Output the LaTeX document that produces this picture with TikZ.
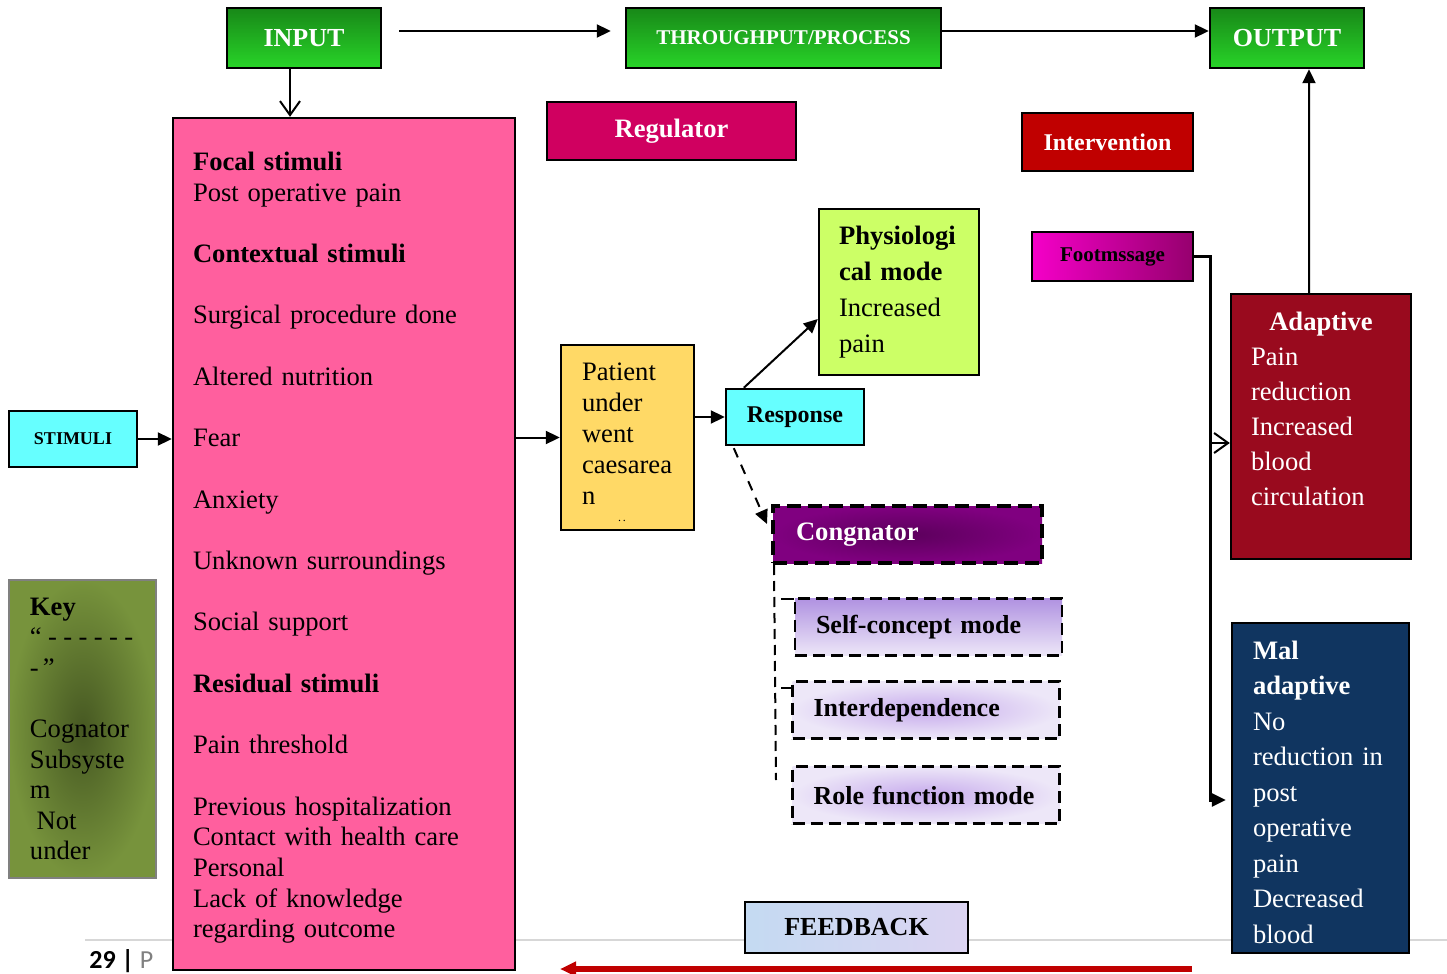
\documentclass[tikz,border=0pt]{standalone}
\usepackage{fontspec}
\setmainfont{Liberation Serif}
\newfontfamily\pagefont{Carlito}
\usetikzlibrary{positioning,calc,arrows.meta}
\hyphenpenalty=10000
\exhyphenpenalty=10000

\definecolor{hdrtop}{RGB}{24,136,24}
\definecolor{hdrbot}{RGB}{40,212,40}
\definecolor{stimpink}{RGB}{255,95,158}
\definecolor{regred}{RGB}{208,0,96}
\definecolor{intred}{RGB}{192,0,0}
\definecolor{physgreen}{RGB}{204,255,102}
\definecolor{footlight}{RGB}{245,0,200}
\definecolor{footdark}{RGB}{150,0,110}
\definecolor{adaptred}{RGB}{153,10,30}
\definecolor{malblue}{RGB}{16,53,96}
\definecolor{cyanbox}{RGB}{102,255,255}
\definecolor{patgold}{RGB}{255,217,102}
\definecolor{congpurple}{RGB}{128,0,128}
\definecolor{congdark}{RGB}{92,0,92}
\definecolor{modetop}{RGB}{176,146,225}
\definecolor{modelight}{RGB}{237,231,248}
\definecolor{modemid}{RGB}{198,170,236}
\definecolor{keyolive}{RGB}{119,147,60}
\definecolor{keydark}{RGB}{70,88,34}
\definecolor{fbblue}{RGB}{196,218,242}
\definecolor{fblilac}{RGB}{220,212,242}
\definecolor{pagegray}{RGB}{128,128,128}
\definecolor{ruleline}{RGB}{215,215,215}

\tikzset{
  box/.style={draw=black, line width=1.2pt, inner sep=0pt, align=center},
  iobox/.style={box, top color=hdrtop, bottom color=hdrbot, text=white,
    minimum width=77pt, minimum height=30pt, font=\fontsize{13}{15}\selectfont\bfseries},
  listbox/.style={box, inner xsep=10pt, align=left},
  modebox/.style={box, dashed, dash pattern=on 6pt off 3pt, inner xsep=10.5pt, align=left,
    text width=112.5pt, minimum height=28.5pt, font=\fontsize{13}{15}\selectfont\bfseries},
  arr/.style={-{Triangle[length=7pt,width=6.5pt]}, line width=1pt},
  barb/.style={-{Straight Barb[length=7pt,width=10pt]}, line width=1pt},
}

\begin{document}
\begin{tikzpicture}[x=0.5pt,y=-0.5pt]
  \fill [white] (0,0) rectangle (1447,974);
  \useasboundingbox (0,0) rectangle (1447,974);

  % page footer
  \draw [ruleline, line width=1pt] (85,940) -- (1447,940);
  \node [anchor=base west, inner sep=0pt, font=\pagefont\fontsize{13}{15}\selectfont] (pagenum) at (89,968)
    {\textbf{29 |} \textcolor{pagegray}{P}};

  % top row
  \node [iobox] (input) at (304,38) {INPUT};
  \node [iobox, minimum width=157.5pt, font=\fontsize{10.5}{12}\selectfont\bfseries] [right=121.3pt of input] (thru) {THROUGHPUT/PROCESS};
  \node [iobox] [right=133.3pt of thru] (out) {OUTPUT};

  \node [box, fill=regred, text=white, minimum width=124.5pt, minimum height=29pt,
    font=\fontsize{13.3}{15}\selectfont\bfseries] (reg) at (671.5,131) {Regulator};
  \node [box, fill=intred, text=white, minimum width=85.5pt, minimum height=29pt,
    font=\fontsize{12}{14}\selectfont\bfseries] (interv) at (1107.5,142) {Intervention};

  % stimuli
  \node [box, fill=cyanbox, minimum width=64pt, minimum height=28pt,
    font=\fontsize{9}{11}\selectfont\bfseries] (stim) at (73,439) {STIMULI};
  \node [listbox, fill=stimpink, text width=151pt, minimum height=426pt,
    font=\fontsize{13.3}{15.35}\selectfont] (stimlist) at (344,544)
    {\rule{0pt}{13pt}\textbf{Focal stimuli}\\Post operative pain\\[15.35pt]
     \textbf{Contextual stimuli}\\[15.35pt]
     Surgical procedure done\\[15.35pt]
     Altered nutrition\\[15.35pt]
     Fear\\[15.35pt]
     Anxiety\\[15.35pt]
     Unknown surroundings\\[15.35pt]
     Social support\\[15.35pt]
     \textbf{Residual stimuli}\\[15.35pt]
     Pain threshold\\[15.35pt]
     Previous hospitalization\\Contact with health care\\Personal\\Lack of knowledge\\regarding outcome};

  \node [listbox, draw=pagegray, line width=1pt, shading=radial, inner color=keydark, outer color=keyolive,
    inner xsep=10.5pt, text width=52.5pt, minimum height=149pt,
    font=\fontsize{13.3}{15.3}\selectfont] (key) at (82.5,729)
    {\textbf{Key}\\“\hspace*{3.2pt}-\hspace*{3.2pt}-\hspace*{3.2pt}-\hspace*{3.2pt}-\hspace*{3.2pt}-\hspace*{3.2pt}-\\-\hspace*{2pt}”\\[15.3pt]Cognator\\Subsyste\\m\\\hspace*{3.3pt}Not\\under};

  \node [listbox, fill=patgold, inner xsep=10.5pt, text width=45.5pt, minimum height=92.5pt,
    font=\fontsize{13.3}{15.5}\selectfont] (pat) at (627.5,437.5)
    {\rule{0pt}{13.8pt}Patient\\under\\went\\caesarea\\n\\[-7pt]\hspace*{18pt}{\fontsize{6}{6}\selectfont.\,.}};

  \node [box, fill=cyanbox, minimum width=69pt, minimum height=28pt,
    font=\fontsize{12}{14}\selectfont\bfseries] (resp) at (795,417) {Response};

  \node [listbox, fill=physgreen, text width=60pt, minimum height=83pt,
    font=\fontsize{13.3}{18}\selectfont] (phys) at (899,292)
    {\textbf{Physiologi}\\\textbf{cal mode}\\Increased\\pain};

  % cognator subsystem
  \node [box, dash pattern=on 7pt off 3.5pt, line width=2pt, shading=radial, inner color=congdark,
    outer color=congpurple, text=white, align=left, inner xsep=11.5pt, text width=111.5pt,
    minimum height=28.5pt, font=\fontsize{13.3}{15}\selectfont\bfseries] (cong) at (907.5,534.5) {Congnator};
  \node [modebox, top color=modetop, bottom color=modelight] (self) at (928.5,627) {Self-concept mode};
  \node [modebox, shading=radial, inner color=modemid, outer color=modelight] [below=11.8pt of self, xshift=-1.25pt] (inter) {Interdependence};
  \node [modebox, shading=radial, inner color=modemid, outer color=modelight] [below=12.8pt of inter] (role) {Role function mode};

  % outcomes
  \node [box, left color=footlight, right color=footdark, minimum width=80.5pt, minimum height=24.5pt,
    font=\fontsize{10.5}{12}\selectfont\bfseries] (foot) at (1112.5,256.5) {Footmssage};
  \node [listbox, fill=adaptred, text=white, text width=70pt, minimum height=132.5pt,
    font=\fontsize{13.3}{17.5}\selectfont] (adapt) at (1321,426.5)
    {\makebox[\linewidth]{\textbf{Adaptive}}\\Pain\\reduction\\Increased\\blood\\circulation\\\mbox{}};
  \node [listbox, fill=malblue, text=white, inner xsep=10.5pt, text width=67.5pt, minimum height=165pt,
    font=\fontsize{13.3}{17.75}\selectfont] (mal) at (1320.5,788)
    {\rule{0pt}{13.2pt}\textbf{Mal}\\\textbf{adaptive}\\No\\reduction in\\post\\operative\\pain\\Decreased\\blood};

  \node [box, left color=fbblue, right color=fblilac, minimum width=111.5pt, minimum height=25.5pt,
    font=\fontsize{13}{15}\selectfont\bfseries] (fb) at (856.5,927.5) {FEEDBACK};

  % connectors
  \coordinate (bend) at (1210,800);
  \coordinate (split) at (1210,443);
  \coordinate (cogfoot) at (776,780);
  \coordinate (fbtail) at (1192,969);
  \coordinate (fbhead) at (560,969);

  \draw [arr] ($(input.east)+(17,-7)$) -- ($(thru.west)+(-14,-7)$);
  \draw [arr] ($(thru.east)+(0,-7)$) -- ($(out.west)+(0,-7)$);
  \draw [barb] ($(input.south)+(-14,0)$) -- ($(stimlist.north)+(-54,0)$);
  \draw [arr] (stim.east) -- (stim.east -| stimlist.west);
  \draw [arr] (stimlist.east |- pat.west) -- (pat.west);
  \draw [arr] (pat.east |- resp.west) -- (resp.west);
  \draw [arr] ($(resp.north west)+(19,0)$) -- ($(phys.west)+(0,27)$);
  \draw [arr, dash pattern=on 5pt off 4pt] ($(resp.south west)+(9,2)$) -- ($(cong.north west)+(-4,20)$);
  \draw [line width=1pt, dash pattern=on 5pt off 3pt] ($(cong.south west)+(3,0)$) -- (cogfoot);
  \draw [line width=1pt] ($(self.north west)+(-13,2)$) -- ($(self.north west)+(0,2)$);
  \draw [line width=1pt] ($(inter.north west)+(-10,8)$) -- ($(inter.north west)+(0,8)$);
  \draw [arr, line width=1.5pt] (foot.east) -| (bend) -- ($(mal.west)+(-5,12)$);
  \draw [barb] (split) -- (split -| adapt.west);
  \draw [arr] ($(adapt.north)+(-12,0)$) -- ($(out.south)+(22,0)$);
  \draw [-{Triangle[length=8pt,width=7pt]}, line width=3.2pt, intred] (fbtail) -- (fbhead);
\end{tikzpicture}
\end{document}
